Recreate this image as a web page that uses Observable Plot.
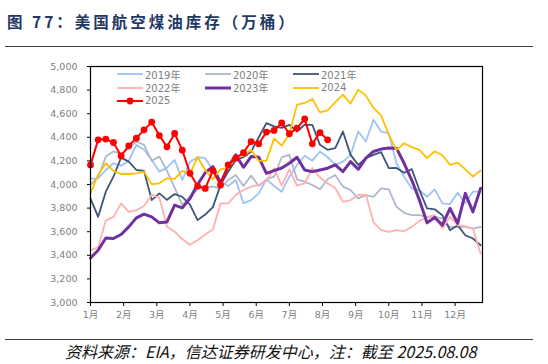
<!DOCTYPE html>
<html><head><meta charset="utf-8">
<script src="https://cdn.jsdelivr.net/npm/d3@7"></script>
<script src="https://cdn.jsdelivr.net/npm/@observablehq/plot@0.6"></script>
<style>
body{margin:0;width:548px;height:364px;position:relative;background:#fff;overflow:hidden;font-family:"Noto Sans CJK SC",sans-serif}
#title{position:absolute;left:7px;top:11px;font-size:15.5px;line-height:20px;font-weight:bold;color:#1f3864;white-space:nowrap;letter-spacing:3px}
.rule{position:absolute;left:5px;width:528px;height:0;border-top:1.3px solid #404040}
#chart{position:absolute;left:0;top:50px}
#caption{position:absolute;left:65px;top:340px;font-size:16px;line-height:22px;font-style:italic;color:#111;white-space:nowrap}
.leg{position:absolute;height:14px;display:flex;align-items:center;font-family:"DejaVu Sans","Noto Sans CJK SC",sans-serif;font-size:10px;color:#7f7f7f;white-space:nowrap}
.leg svg{margin-right:2px}
</style></head>
<body>
<div id="title">图 77：美国航空煤油库存（万桶）</div>
<div class="rule" style="top:46px"></div>
<div id="chart"></div>
<div id="legend"></div>
<div class="rule" style="top:339px"></div>
<div id="caption">资料来源：EIA，信达证券研发中心，注：截至 2025.08.08</div>
<script>
// weekly jet fuel inventories (10k barrels), week index 0..51
const y2019 = [4050,4052,4123,4180,4160,4200,4336,4294,4209,4109,4143,4209,4038,4190,4231,4223,4123,4024,3987,4038,3840,3868,3925,4044,3987,3939,4066,4166,4243,4202,4280,4231,4166,4194,4251,4449,4364,4549,4449,4435,4180,4066,3967,3953,3896,3959,3840,3834,3930,3840,3939,3939];
const y2020 = [3996,4066,4237,4280,4257,4308,4364,4336,4200,4237,4115,3973,3825,3900,3960,3980,3982,3967,4038,4081,3987,4075,3987,4044,4066,4231,4251,4044,4024,3996,3959,4044,4081,3982,3953,3882,3910,3896,3967,3959,3811,3760,3740,3740,3726,3726,3712,3641,3641,3641,3627,3641];
const y2021 = [3880,3726,3939,4066,4228,4194,4123,4115,3868,3925,3870,3919,3896,3830,3698,3745,3808,3996,4109,4209,4231,4280,4400,4520,4492,4480,4506,4449,4506,4506,4336,4294,4308,4449,4251,4166,4223,4251,4275,4138,4140,4100,4130,3953,3797,3790,3740,3613,3655,3570,3542,3485];
const y2022 = [3443,3468,3695,3726,3840,3768,3783,3818,3913,3890,3641,3600,3538,3490,3528,3576,3618,3840,3840,3911,3953,3982,3996,4030,4138,3990,4129,3990,4010,4140,4060,4010,3970,3853,3868,3911,3915,3680,3613,3598,3613,3604,3641,3692,3726,3740,3627,3726,3655,3647,3627,3413];
const y2023 = [3377,3443,3547,3542,3576,3641,3717,3749,3726,3675,3683,3825,3802,3880,4000,4100,4152,4013,4150,4251,4146,4237,4230,4095,4118,4140,4180,4231,4123,4109,4123,4138,4166,4109,4194,4129,4223,4280,4300,4310,4308,4180,4038,3868,3675,3721,3655,3797,3670,3925,3768,3967];
const y2024 = [3925,4081,4180,4115,4089,4089,4095,4109,4002,4010,4052,4047,4115,4087,4231,4123,4044,4129,4138,4237,4243,4294,4200,4200,4390,4330,4430,4677,4691,4725,4611,4628,4696,4762,4685,4804,4753,4649,4583,4421,4294,4350,4316,4294,4223,4282,4248,4166,4185,4129,4067,4118];
const y2025 = [4166,4379,4385,4356,4242,4328,4393,4463,4529,4415,4319,4432,4291,4095,3987,3967,4118,3996,4166,4223,4270,4364,4345,4444,4458,4521,4430,4478,4555,4345,4440,4379];

const monthLabels = ["1月","2月","3月","4月","5月","6月","7月","8月","9月","10月","11月","12月"];
const yTicks = [3000,3200,3400,3600,3800,4000,4200,4400,4600,4800,5000];

const series = [
  {name:"2019年", values:y2019, color:"#9dc3f7", width:1.8},
  {name:"2020年", values:y2020, color:"#adb9ca", width:1.8},
  {name:"2021年", values:y2021, color:"#3e5479", width:1.8},
  {name:"2022年", values:y2022, color:"#ffb0b0", width:1.8},
  {name:"2023年", values:y2023, color:"#7030a0", width:3},
  {name:"2024",   values:y2024, color:"#ffc000", width:1.8},
  {name:"2025",   values:y2025, color:"#ff0000", width:2, dots:true}
];

const weeksPerMonth = 52/12;
const monthTicks = monthLabels.map((_, i) => i * weeksPerMonth);

const marks = [];
for (const s of series) {
  const data = s.values.map((v, i) => ({i, v}));
  marks.push(Plot.line(data, {x:"i", y:"v", stroke:s.color, strokeWidth:s.width, strokeLinejoin:"round"}));
  if (s.dots) marks.push(Plot.dot(data, {x:"i", y:"v", fill:s.color, r:3.4}));
}

const chart = Plot.plot({
  width: 548, height: 280,
  marginLeft: 90, marginRight: 66, marginTop: 16, marginBottom: 28,
  style: {fontFamily: "'DejaVu Sans','Noto Sans CJK SC',sans-serif", fontSize: "9.5px", color: "#7f7f7f", background: "transparent"},
  x: {domain: [0, 51.25], label: null},
  y: {domain: [3000, 5000], label: null},
  marks: [
    Plot.axisY(yTicks, {tickFormat: d3.format(","), tickSize: 3, tickPadding: 10, stroke: "#000", fill: "#808080", fontSize: 9.5, label: null}),
    Plot.axisX(monthTicks, {tickFormat: d => monthLabels[Math.round(d / weeksPerMonth)], tickSize: 4, tickPadding: 5, stroke: "#000", fill: "#808080", fontSize: 9.5, label: null}),
    ...marks,
    Plot.frame({stroke: "#000", strokeWidth: 1.2})
  ]
});
document.getElementById("chart").append(chart);

// legend inside the plot area
const legendPos = [[117,67],[205,67],[293,67],[117,80.7],[205,80.7],[293,80.7],[117,93.7]];
const legend = document.getElementById("legend");
series.forEach((s, k) => {
  const div = document.createElement("div");
  div.className = "leg";
  div.style.left = legendPos[k][0] + "px";
  div.style.top = legendPos[k][1] + "px";
  const sw = d3.create("svg").attr("width", 26).attr("height", 14);
  sw.append("line").attr("x1", 0).attr("x2", 26).attr("y1", 7).attr("y2", 7)
    .attr("stroke", s.color).attr("stroke-width", s.width);
  if (s.dots) sw.append("circle").attr("cx", 13).attr("cy", 7).attr("r", 3.4).attr("fill", s.color);
  div.append(sw.node());
  const t = document.createElement("span");
  t.textContent = s.name;
  div.append(t);
  legend.append(div);
});
</script>
</body></html>
